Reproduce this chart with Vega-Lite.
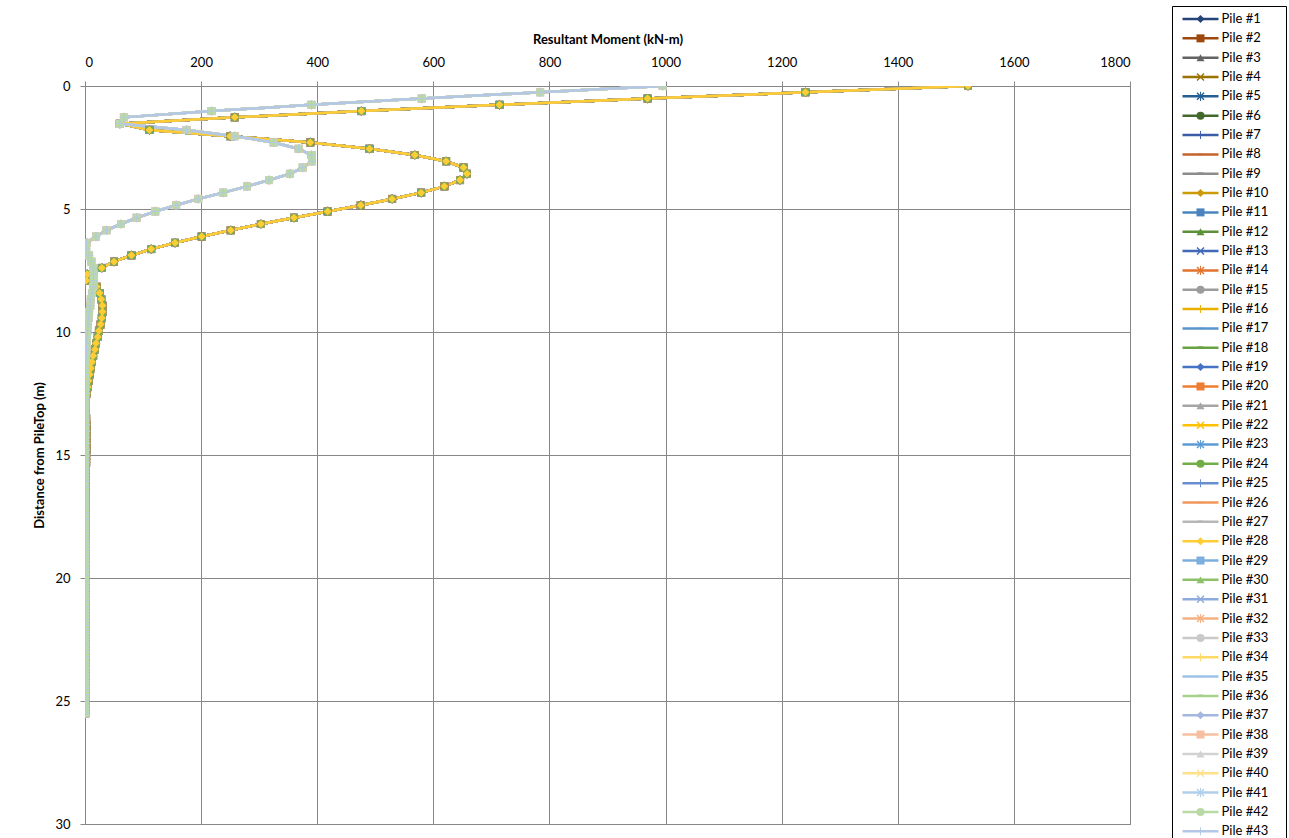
{
  "$schema": "https://vega.github.io/schema/vega-lite/v6.json",
  "padding": {"left": 33, "top": 5, "right": 0, "bottom": 0},
  "background": "white",
  "width": 1045,
  "height": 738,
  "config": {"font": "Lato", "view": {"stroke": "#878787"}},
  "datasets": {
    "piles": [
      {"pile": "Pile #1", "mk": "P1", "g": "A"}, {"pile": "Pile #2", "mk": "P2", "g": "A"}, {"pile": "Pile #3", "mk": "P3", "g": "A"}, {"pile": "Pile #4", "mk": "P4", "g": "A"},
      {"pile": "Pile #5", "mk": "P5", "g": "A"}, {"pile": "Pile #6", "mk": "P6", "g": "A"}, {"pile": "Pile #7", "mk": "P7", "g": "A"}, {"pile": "Pile #8", "mk": "P8", "g": "A"},
      {"pile": "Pile #9", "mk": "P9", "g": "A"}, {"pile": "Pile #10", "mk": "P10", "g": "A"}, {"pile": "Pile #11", "mk": "P11", "g": "A"}, {"pile": "Pile #12", "mk": "P12", "g": "A"},
      {"pile": "Pile #13", "mk": "P13", "g": "A"}, {"pile": "Pile #14", "mk": "P14", "g": "A"}, {"pile": "Pile #15", "mk": "P15", "g": "A"}, {"pile": "Pile #16", "mk": "P16", "g": "A"},
      {"pile": "Pile #17", "mk": "P17", "g": "A"}, {"pile": "Pile #18", "mk": "P18", "g": "A"}, {"pile": "Pile #19", "mk": "P19", "g": "A"}, {"pile": "Pile #20", "mk": "P20", "g": "A"},
      {"pile": "Pile #21", "mk": "P21", "g": "A"}, {"pile": "Pile #22", "mk": "P22", "g": "A"}, {"pile": "Pile #23", "mk": "P23", "g": "A"}, {"pile": "Pile #24", "mk": "P24", "g": "A"},
      {"pile": "Pile #25", "mk": "P25", "g": "A"}, {"pile": "Pile #26", "mk": "P26", "g": "A"}, {"pile": "Pile #27", "mk": "P27", "g": "A"}, {"pile": "Pile #28", "mk": "P28", "g": "A"},
      {"pile": "Pile #29", "mk": "P29", "g": "B"}, {"pile": "Pile #30", "mk": "P30", "g": "B"}, {"pile": "Pile #31", "mk": "P31", "g": "B"}, {"pile": "Pile #32", "mk": "P32", "g": "B"},
      {"pile": "Pile #33", "mk": "P33", "g": "B"}, {"pile": "Pile #34", "mk": "P34", "g": "B"}, {"pile": "Pile #35", "mk": "P35", "g": "B"}, {"pile": "Pile #36", "mk": "P36", "g": "B"},
      {"pile": "Pile #37", "mk": "P37", "g": "B"}, {"pile": "Pile #38", "mk": "P38", "g": "B"}, {"pile": "Pile #39", "mk": "P39", "g": "B"}, {"pile": "Pile #40", "mk": "P40", "g": "B"},
      {"pile": "Pile #41", "mk": "P41", "g": "B"}, {"pile": "Pile #42", "mk": "P42", "g": "B"}, {"pile": "Pile #43", "mk": "P43", "g": "B"}
    ],
    "profiles": [
      {"g": "A",
       "d": [0,0.255,0.51,0.765,1.02,1.275,1.53,1.785,2.04,2.295,2.55,2.805,3.06,3.315,3.57,3.825,4.08,4.335,4.59,4.845,5.1,5.355,5.61,5.865,6.12,6.375,6.63,6.885,7.14,7.395,7.65,7.905,8.16,8.415,8.67,8.925,9.18,9.435,9.69,9.945,10.2,10.455,10.71,10.965,11.22,11.475,11.73,11.985,12.24,12.495,12.75,13.005,13.26,13.515,13.77,14.025,14.28,14.535,14.79,15.045,15.3,15.555,15.81,16.065,16.32,16.575,16.83,17.085,17.34,17.595,17.85,18.105,18.36,18.615,18.87,19.125,19.38,19.635,19.89,20.145,20.4,20.655,20.91,21.165,21.42,21.675,21.93,22.185,22.44,22.695,22.95,23.205,23.46,23.715,23.97,24.225,24.48,24.735,24.99,25.245,25.5],
       "m": [1521,1241,969,714,476,258,60,111,250,388,490,568,622,652,658,646,619,579,529,475,418,360,303,251,201,155,114,80,50,29,4,2,20,25,28,30,30,29,27,24,22,19,17,14,12,10,8,6,5,3,1,0.5,1.5,2,2.5,2.5,2.5,2.5,2.5,2,2,1.5,1,0.8,0.7,0.6,0.5,0.5,0.5,0.4,0.4,0.4,0.4,0.3,0.3,0.3,0.3,0.3,0.3,0.3,0.3,0.3,0.3,0.3,0.3,0.3,0.3,0.3,0.3,0.3,0.3,0.3,0.3,0.3,0.3,0.3,0.3,0.3,0.3,0.3,0.3]},
      {"g": "B",
       "d": [0,0.255,0.51,0.765,1.02,1.275,1.53,1.785,2.04,2.295,2.55,2.805,3.06,3.315,3.57,3.825,4.08,4.335,4.59,4.845,5.1,5.355,5.61,5.865,6.12,6.375,6.63,6.885,7.14,7.395,7.65,7.905,8.16,8.415,8.67,8.925,9.18,9.435,9.69,9.945,10.2,10.455,10.71,10.965,11.22,11.475,11.73,11.985,12.24,12.495,12.75,13.005,13.26,13.515,13.77,14.025,14.28,14.535,14.79,15.045,15.3,15.555,15.81,16.065,16.32,16.575,16.83,17.085,17.34,17.595,17.85,18.105,18.36,18.615,18.87,19.125,19.38,19.635,19.89,20.145,20.4,20.655,20.91,21.165,21.42,21.675,21.93,22.185,22.44,22.695,22.95,23.205,23.46,23.715,23.97,24.225,24.48,24.735,24.99,25.245,25.5],
       "m": [995,784,580,390,218,67,60,175,258,325,368,390,391,375,353,317,279,238,195,157,121,89,62,37,19,3,2,7,11,14,15,15,14,12,10,9,7,6,5,4,3.5,3,2.5,2,1.5,1,1,0.8,0.6,0.5,0.5,0.5,0.4,0.4,0.4,0.4,0.3,0.3,0.3,0.3,0.3,0.3,0.3,0.3,0.3,0.3,0.3,0.3,0.3,0.3,0.3,0.3,0.3,0.3,0.3,0.3,0.3,0.3,0.3,0.3,0.3,0.3,0.3,0.3,0.3,0.3,0.3,0.3,0.3,0.3,0.3,0.3,0.3,0.3,0.3,0.3,0.3,0.3,0.3,0.3,0.3]}
    ]
  },
  "data": {"name": "piles"},
  "transform": [
    {"lookup": "g", "from": {"data": {"name": "profiles"}, "key": "g", "fields": ["d", "m"]}},
    {"flatten": ["d", "m"]}
  ],
  "encoding": {
    "x": {
      "field": "m", "type": "quantitative",
      "scale": {"domain": [0, 1800], "nice": false, "zero": false},
      "axis": {
        "orient": "top", "values": [0, 200, 400, 600, 800, 1000, 1200, 1400, 1600, 1800], "format": "d",
        "grid": true, "gridColor": "#878787", "gridWidth": 1, "domain": false,
        "ticks": true, "tickColor": "#878787", "tickSize": 5,
        "labelFontSize": 13, "labelColor": "#000000", "labelPadding": 12, "labelFont": "Lato",
        "title": "Resultant Moment (kN-m)", "titleFontSize": 13, "titleFontWeight": "bold",
        "titleColor": "#000000", "titlePadding": 10, "titleFont": "Lato"
      }
    },
    "y": {
      "field": "d", "type": "quantitative",
      "scale": {"domain": [0, 30], "reverse": true, "nice": false, "zero": false},
      "axis": {
        "values": [0, 5, 10, 15, 20, 25, 30],
        "grid": true, "gridColor": "#878787", "gridWidth": 1, "domain": false,
        "ticks": true, "tickColor": "#878787", "tickSize": 5,
        "labelFontSize": 13, "labelColor": "#000000", "labelPadding": 10, "labelFont": "Lato",
        "title": "Distance from PileTop (m)", "titleFontSize": 13, "titleFontWeight": "bold",
        "titleColor": "#000000", "titlePadding": 8, "titleFont": "Lato"
      }
    }
  },
  "layer": [
    {
      "mark": {"type": "line", "strokeWidth": 2.5, "clip": true},
      "encoding": {
        "order": {"field": "d", "type": "quantitative"},
        "stroke": {
          "field": "pile", "type": "nominal",
          "scale": {
            "domain": ["Pile #1","Pile #2","Pile #3","Pile #4","Pile #5","Pile #6","Pile #7","Pile #8","Pile #9","Pile #10","Pile #11","Pile #12","Pile #13","Pile #14","Pile #15","Pile #16","Pile #17","Pile #18","Pile #19","Pile #20","Pile #21","Pile #22","Pile #23","Pile #24","Pile #25","Pile #26","Pile #27","Pile #28","Pile #29","Pile #30","Pile #31","Pile #32","Pile #33","Pile #34","Pile #35","Pile #36","Pile #37","Pile #38","Pile #39","Pile #40","Pile #41","Pile #42","Pile #43"],
            "range": ["#264478","#9E480E","#636363","#997300","#255E91","#43682B","#3B5DA8","#C5632A","#8C8C8C","#CC9A06","#4A84BF","#5B9139","#4169BA","#E2722E","#9C9C9C","#EAB000","#5893CB","#68A342","#4472C4","#ED7D31","#A5A5A5","#FFC000","#5B9BD5","#70AD47","#698ED0","#F1975A","#B7B7B7","#FFCD33","#7CAFDD","#8CC168","#8FAADC","#F4B183","#C9C9C9","#FFD966","#9DC3E6","#A9D18E","#A4B7E1","#F6C0A0","#D2D2D2","#FFE08C","#B0CFEA","#B9DAA5","#B4C7E7"]
          },
          "legend": {
            "orient": "none", "legendX": 1087, "legendY": -80, "direction": "vertical", "title": null,
            "padding": 6.5, "rowPadding": 5.34, "symbolLimit": 0,
            "symbolType": "M-4.5,0L4.5,0", "symbolSize": 64, "symbolStrokeWidth": 2.5, "symbolOffset": 15.5,
            "symbolFillColor": "transparent",
            "labelFontSize": 13, "labelFont": "Lato", "labelColor": "#000000", "labelOffset": 14.5, "labelLimit": 200
          }
        }
      }
    },
    {
      "mark": {"type": "point", "filled": true, "opacity": 1, "size": 64, "clip": true, "strokeWidth": 0},
      "encoding": {
        "fill": {
          "field": "mk", "type": "nominal",
          "scale": {
            "domain": ["P1","P2","P3","P4","P5","P6","P7","P8","P9","P10","P11","P12","P13","P14","P15","P16","P17","P18","P19","P20","P21","P22","P23","P24","P25","P26","P27","P28","P29","P30","P31","P32","P33","P34","P35","P36","P37","P38","P39","P40","P41","P42","P43"],
            "range": ["#264478","#9E480E","#636363","#997300","#255E91","#43682B","#3B5DA8","#C5632A","#8C8C8C","#CC9A06","#4A84BF","#5B9139","#4169BA","#E2722E","#9C9C9C","#EAB000","#5893CB","#68A342","#4472C4","#ED7D31","#A5A5A5","#FFC000","#5B9BD5","#70AD47","#698ED0","#F1975A","#B7B7B7","#FFCD33","#7CAFDD","#8CC168","#8FAADC","#F4B183","#C9C9C9","#FFD966","#9DC3E6","#A9D18E","#A4B7E1","#F6C0A0","#D2D2D2","#FFE08C","#B0CFEA","#B9DAA5","#B4C7E7"]
          },
          "legend": {
            "orient": "none", "legendX": 1087, "legendY": -80, "direction": "vertical", "title": null,
            "padding": 6.5, "rowPadding": 5.34, "symbolLimit": 0,
            "symbolSize": 64, "symbolOffset": 15.5, "symbolStrokeWidth": 0,
            "labelFontSize": 13, "labelFont": "Lato", "labelExpr": "''", "labelOffset": 72, "labelLimit": 200,
            "strokeColor": "#000000"
          }
        },
        "shape": {
          "field": "mk", "type": "nominal",
          "scale": {
            "domain": ["P1","P2","P3","P4","P5","P6","P7","P8","P9","P10","P11","P12","P13","P14","P15","P16","P17","P18","P19","P20","P21","P22","P23","P24","P25","P26","P27","P28","P29","P30","P31","P32","P33","P34","P35","P36","P37","P38","P39","P40","P41","P42","P43"],
            "range": [
              "diamond","square","triangle-up","M-1,-0.75L-0.75,-1L0,-0.25L0.75,-1L1,-0.75L0.25,0L1,0.75L0.75,1L0,0.25L-0.75,1L-1,0.75L-0.25,0Z","M-1,-0.75L-0.75,-1L0,-0.25L0.75,-1L1,-0.75L0.25,0L1,0.75L0.75,1L0,0.25L-0.75,1L-1,0.75L-0.25,0ZM-0.12,-1.15L0.12,-1.15L0.12,1.15L-0.12,1.15Z","circle","M-0.12,-1L0.12,-1L0.12,-0.12L1,-0.12L1,0.12L0.12,0.12L0.12,1L-0.12,1L-0.12,0.12L-1,0.12L-1,-0.12L-0.12,-0.12Z","M-0.6,-0.18L0.6,-0.18L0.6,0.18L-0.6,0.18Z","M-0.7,-0.35L0.7,-0.35L0.7,0.1L-0.7,0.1Z",
              "diamond","square","triangle-up","M-1,-0.75L-0.75,-1L0,-0.25L0.75,-1L1,-0.75L0.25,0L1,0.75L0.75,1L0,0.25L-0.75,1L-1,0.75L-0.25,0Z","M-1,-0.75L-0.75,-1L0,-0.25L0.75,-1L1,-0.75L0.25,0L1,0.75L0.75,1L0,0.25L-0.75,1L-1,0.75L-0.25,0ZM-0.12,-1.15L0.12,-1.15L0.12,1.15L-0.12,1.15Z","circle","M-0.12,-1L0.12,-1L0.12,-0.12L1,-0.12L1,0.12L0.12,0.12L0.12,1L-0.12,1L-0.12,0.12L-1,0.12L-1,-0.12L-0.12,-0.12Z","M-0.6,-0.18L0.6,-0.18L0.6,0.18L-0.6,0.18Z","M-0.7,-0.35L0.7,-0.35L0.7,0.1L-0.7,0.1Z",
              "diamond","square","triangle-up","M-1,-0.75L-0.75,-1L0,-0.25L0.75,-1L1,-0.75L0.25,0L1,0.75L0.75,1L0,0.25L-0.75,1L-1,0.75L-0.25,0Z","M-1,-0.75L-0.75,-1L0,-0.25L0.75,-1L1,-0.75L0.25,0L1,0.75L0.75,1L0,0.25L-0.75,1L-1,0.75L-0.25,0ZM-0.12,-1.15L0.12,-1.15L0.12,1.15L-0.12,1.15Z","circle","M-0.12,-1L0.12,-1L0.12,-0.12L1,-0.12L1,0.12L0.12,0.12L0.12,1L-0.12,1L-0.12,0.12L-1,0.12L-1,-0.12L-0.12,-0.12Z","M-0.6,-0.18L0.6,-0.18L0.6,0.18L-0.6,0.18Z","M-0.7,-0.35L0.7,-0.35L0.7,0.1L-0.7,0.1Z",
              "diamond","square","triangle-up","M-1,-0.75L-0.75,-1L0,-0.25L0.75,-1L1,-0.75L0.25,0L1,0.75L0.75,1L0,0.25L-0.75,1L-1,0.75L-0.25,0Z","M-1,-0.75L-0.75,-1L0,-0.25L0.75,-1L1,-0.75L0.25,0L1,0.75L0.75,1L0,0.25L-0.75,1L-1,0.75L-0.25,0ZM-0.12,-1.15L0.12,-1.15L0.12,1.15L-0.12,1.15Z","circle","M-0.12,-1L0.12,-1L0.12,-0.12L1,-0.12L1,0.12L0.12,0.12L0.12,1L-0.12,1L-0.12,0.12L-1,0.12L-1,-0.12L-0.12,-0.12Z","M-0.6,-0.18L0.6,-0.18L0.6,0.18L-0.6,0.18Z","M-0.7,-0.35L0.7,-0.35L0.7,0.1L-0.7,0.1Z",
              "diamond","square","triangle-up","M-1,-0.75L-0.75,-1L0,-0.25L0.75,-1L1,-0.75L0.25,0L1,0.75L0.75,1L0,0.25L-0.75,1L-1,0.75L-0.25,0Z","M-1,-0.75L-0.75,-1L0,-0.25L0.75,-1L1,-0.75L0.25,0L1,0.75L0.75,1L0,0.25L-0.75,1L-1,0.75L-0.25,0ZM-0.12,-1.15L0.12,-1.15L0.12,1.15L-0.12,1.15Z","circle","M-0.12,-1L0.12,-1L0.12,-0.12L1,-0.12L1,0.12L0.12,0.12L0.12,1L-0.12,1L-0.12,0.12L-1,0.12L-1,-0.12L-0.12,-0.12Z"
            ]
          },
          "legend": {
            "orient": "none", "legendX": 1087, "legendY": -80, "direction": "vertical", "title": null,
            "padding": 6.5, "rowPadding": 5.34, "symbolLimit": 0,
            "symbolSize": 64, "symbolOffset": 15.5, "symbolStrokeWidth": 0,
            "labelFontSize": 13, "labelFont": "Lato", "labelExpr": "''", "labelOffset": 72, "labelLimit": 200,
            "strokeColor": "#000000"
          }
        }
      }
    }
  ]
}
